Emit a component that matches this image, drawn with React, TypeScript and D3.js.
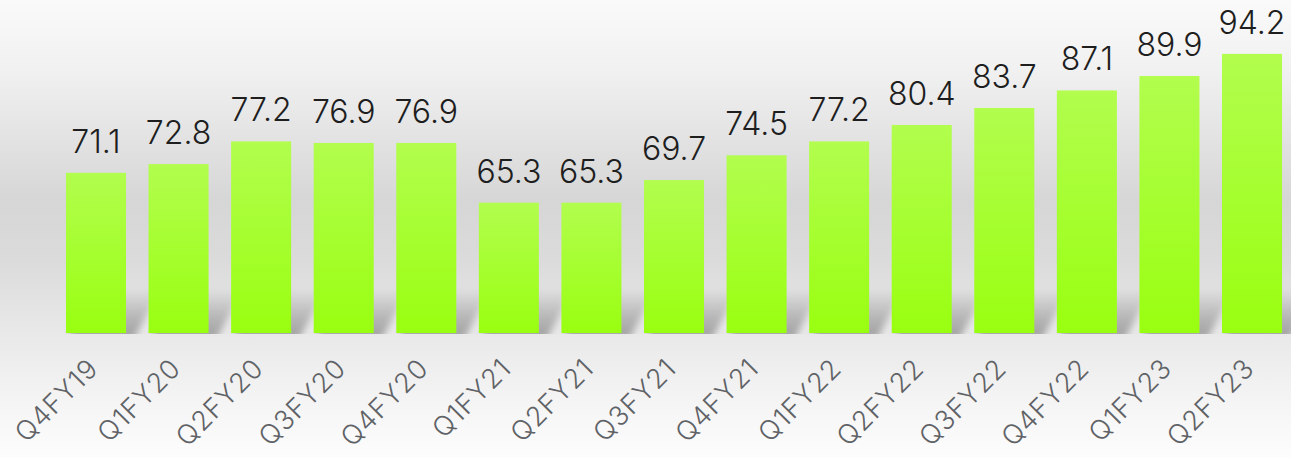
import React, { useEffect, useRef } from 'react';
import * as d3 from 'd3';

const categories = [
  'Q4FY19', 'Q1FY20', 'Q2FY20', 'Q3FY20', 'Q4FY20',
  'Q1FY21', 'Q2FY21', 'Q3FY21', 'Q4FY21',
  'Q1FY22', 'Q2FY22', 'Q3FY22', 'Q4FY22',
  'Q1FY23', 'Q2FY23',
];
const values = [71.1, 72.8, 77.2, 76.9, 76.9, 65.3, 65.3, 69.7, 74.5, 77.2, 80.4, 83.7, 87.1, 89.9, 94.2];
const valueLabels = values.map((v) => v.toFixed(1));

const W = 1291;
const H = 458;

const App = () => {
  const ref = useRef<SVGSVGElement>(null);

  useEffect(() => {
    const svg = d3.select(ref.current);
    svg.selectAll('*').remove();

    const defs = svg.append('defs');

    const bg = defs.append('linearGradient')
      .attr('id', 'bg').attr('x1', 0).attr('y1', 0).attr('x2', 0).attr('y2', 1);
    [
      [0, '#fafafa'], [0.15, '#f1f1f1'], [0.3, '#e3e3e3'], [0.44, '#d6d6d6'],
      [0.57, '#dbdbdb'], [0.72, '#e8e8e8'], [0.87, '#f4f4f4'], [1, '#fdfdfd'],
    ].forEach(([o, c]) => bg.append('stop').attr('offset', o as number).attr('stop-color', c as string));

    const barGrad = defs.append('linearGradient')
      .attr('id', 'bar').attr('x1', 0).attr('y1', 0).attr('x2', 0).attr('y2', 1);
    barGrad.append('stop').attr('offset', 0).attr('stop-color', '#b2fd4e');
    barGrad.append('stop').attr('offset', 1).attr('stop-color', '#99ff10');

    const shGrad = defs.append('linearGradient')
      .attr('id', 'sh').attr('x1', 0).attr('y1', 0).attr('x2', 0).attr('y2', 1);
    shGrad.append('stop').attr('offset', 0).attr('stop-color', '#000').attr('stop-opacity', 0);
    shGrad.append('stop').attr('offset', 0.55).attr('stop-color', '#000').attr('stop-opacity', 0.2);
    shGrad.append('stop').attr('offset', 1).attr('stop-color', '#000').attr('stop-opacity', 0.32);

    defs.append('filter').attr('id', 'blur').attr('x', '-50%').attr('y', '-50%')
      .attr('width', '200%').attr('height', '200%')
      .append('feGaussianBlur').attr('stdDeviation', 3.5);

    const x = d3.scaleBand<string>()
      .domain(categories)
      .range([54.7, 1293.3])
      .paddingInner(0.273)
      .paddingOuter(0.1365);

    const y = d3.scaleLinear().domain([40, 100]).range([333, 24]);
    const base = y(40);

    defs.append('clipPath').attr('id', 'floor')
      .append('rect').attr('x', 0).attr('y', 0).attr('width', W).attr('height', base + 1);

    svg.append('rect').attr('width', W).attr('height', H).attr('fill', 'url(#bg)');

    // soft shadows cast to the right of each bar
    svg.append('g').attr('clip-path', 'url(#floor)')
      .selectAll('path')
      .data(values)
      .enter().append('path')
      .attr('d', (d, i) => {
        const x0 = x(categories[i])! + 2;
        const x1 = x0 + x.bandwidth();
        const h = 44;
        return `M${x0},${base + 6}L${x1 + 6},${base + 6}L${x1 + 32},${base - h}L${x0 + 26},${base - h}Z`;
      })
      .attr('fill', 'url(#sh)')
      .attr('filter', 'url(#blur)');

    svg.append('g')
      .selectAll('rect')
      .data(values)
      .enter().append('rect')
      .attr('x', (d, i) => x(categories[i])!)
      .attr('y', (d) => y(d))
      .attr('width', x.bandwidth())
      .attr('height', (d) => base - y(d))
      .attr('fill', 'url(#bar)');

    svg.append('g')
      .selectAll('text')
      .data(values)
      .enter().append('text')
      .attr('x', (d, i) => x(categories[i])! + x.bandwidth() / 2)
      .attr('y', (d) => y(d) - 20)
      .attr('text-anchor', 'middle')
      .attr('font-family', 'Inter, sans-serif')
      .attr('font-size', 32)
      .attr('font-weight', 350)
      .attr('fill', '#1e1e1e')
      .text((d, i) => valueLabels[i]);

    svg.append('g')
      .selectAll('text')
      .data(categories)
      .enter().append('text')
      .attr('transform', (d) => `translate(${x(d)! + x.bandwidth() / 2 + 4},${370}) rotate(-45)`)
      .attr('text-anchor', 'end')
      .attr('font-family', 'Inter, sans-serif')
      .attr('font-size', 27)
      .attr('font-weight', 300)
      .attr('letter-spacing', 1)
      .attr('fill', '#5f6266')
      .text((d) => d);
  }, []);

  return (
    <svg
      ref={ref}
      width={W}
      height={H}
      style={{ position: 'absolute', left: 0, top: 0, display: 'block' }}
    />
  );
};

export default App;
